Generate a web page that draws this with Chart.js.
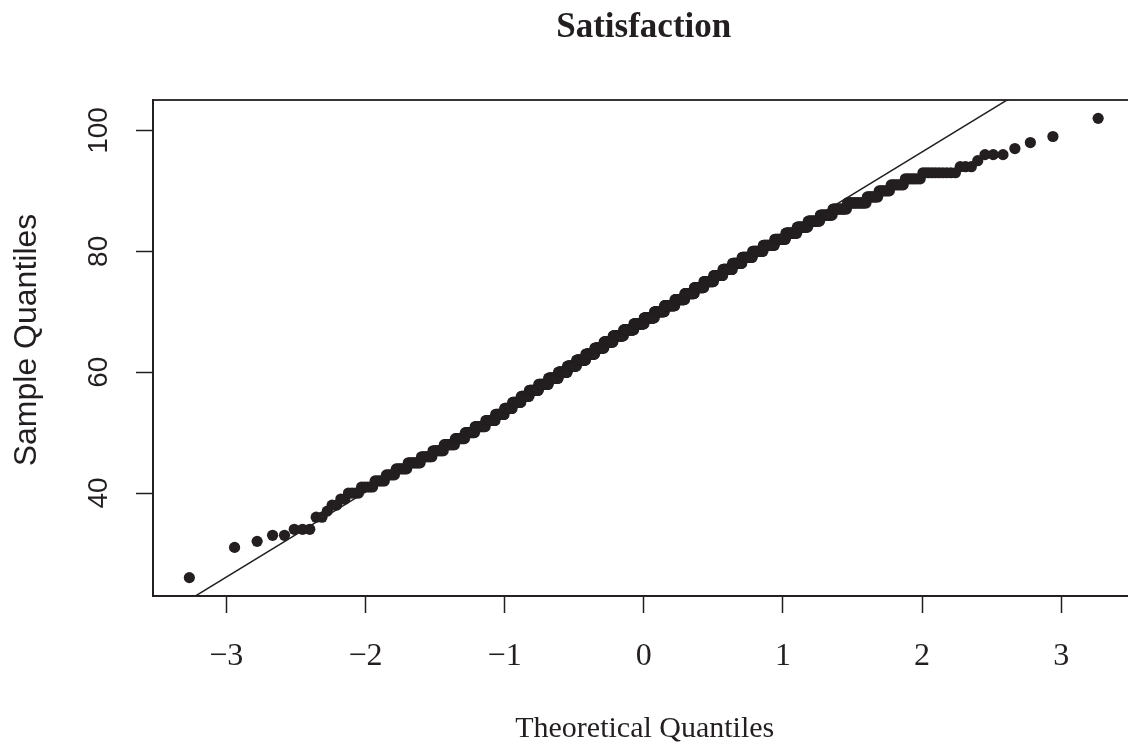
<!DOCTYPE html>
<html>
<head>
<meta charset="utf-8">
<title>Satisfaction</title>
<script src="https://cdn.jsdelivr.net/npm/chart.js@4.4.1/dist/chart.umd.min.js"></script>
<style>
    html, body { margin: 0; padding: 0; background: #ffffff; overflow: hidden; }
    canvas { display: block; }
</style>
</head>
<body>
<canvas id="qqChart" width="1150" height="746"></canvas>
<script>
// Satisfaction scores (distinct values) and how many respondents gave each one
const sampleValues = [26, 31, 32, 33, 34, 36, 37, 38, 39, 40, 41, 42, 43, 44, 45, 46, 47, 48, 49, 50,
    51, 52, 53, 54, 55, 56, 57, 58, 59, 60, 61, 62, 63, 64, 65, 66, 67, 68, 69, 70,
    71, 72, 73, 74, 75, 76, 77, 78, 79, 80, 81, 82, 83, 84, 85, 86, 87, 88, 89, 90,
    91, 92, 93, 94, 95, 96, 97, 98, 99, 102];
const sampleCounts = [1, 1, 1, 2, 3, 2, 1, 2, 2, 4, 5, 5, 5, 7, 9, 9, 10, 11, 11, 12,
    14, 14, 14, 13, 15, 15, 18, 20, 21, 20, 21, 22, 22, 23, 23, 27, 27, 27, 27, 26,
    27, 25, 24, 23, 23, 21, 21, 20, 21, 20, 20, 18, 17, 15, 15, 14, 14, 16, 8, 7,
    7, 7, 10, 3, 1, 3, 1, 1, 1, 1];

// Reference line (through the quartiles)
const lineIntercept = 68.3;
const lineSlope = 14.07;

// Axis ticks
const xTicks = [-3, -2, -1, 0, 1, 2, 3];
const yTicks = [40, 60, 80, 100];

const INK = '#231f20';

// Inverse normal CDF (Acklam's approximation)
function qnorm(p) {
    const a = [-3.969683028665376e+01, 2.209460984245205e+02, -2.759285104469687e+02,
        1.383577518672690e+02, -3.066479806614716e+01, 2.506628277459239e+00];
    const b = [-5.447609879822406e+01, 1.615858368580409e+02, -1.556989798598866e+02,
        6.680131188771972e+01, -1.328068155288572e+01];
    const c = [-7.784894002430293e-03, -3.223964580411365e-01, -2.400758277161838e+00,
        -2.549732539343734e+00, 4.374664141464968e+00, 2.938163982698783e+00];
    const d = [7.784695709041462e-03, 3.224671290700398e-01, 2.445134137142996e+00,
        3.754408661907416e+00];
    const pLow = 0.02425;
    let q, r;
    if (p < pLow) {
        q = Math.sqrt(-2 * Math.log(p));
        return (((((c[0] * q + c[1]) * q + c[2]) * q + c[3]) * q + c[4]) * q + c[5]) /
            ((((d[0] * q + d[1]) * q + d[2]) * q + d[3]) * q + 1);
    }
    if (p <= 1 - pLow) {
        q = p - 0.5;
        r = q * q;
        return (((((a[0] * r + a[1]) * r + a[2]) * r + a[3]) * r + a[4]) * r + a[5]) * q /
            (((((b[0] * r + b[1]) * r + b[2]) * r + b[3]) * r + b[4]) * r + 1);
    }
    q = Math.sqrt(-2 * Math.log(1 - p));
    return -(((((c[0] * q + c[1]) * q + c[2]) * q + c[3]) * q + c[4]) * q + c[5]) /
        ((((d[0] * q + d[1]) * q + d[2]) * q + d[3]) * q + 1);
}

// 1. SORTED SAMPLE + THEORETICAL QUANTILES (ppoints, a = 0.5)
const sorted = [];
sampleValues.forEach((v, k) => {
    for (let j = 0; j < sampleCounts[k]; j++) sorted.push(v);
});
const n = sorted.length;
const qqPoints = sorted.map((v, i) => ({ x: qnorm((i + 0.5) / n), y: v }));

// 2. AXIS LIMITS (data range + 4% each side)
function padRange(lo, hi) {
    const ext = (hi - lo) * 0.04;
    return [lo - ext, hi + ext];
}
const [xMin, xMax] = padRange(qqPoints[0].x, qqPoints[n - 1].x);
const [yMin, yMax] = padRange(sorted[0], sorted[n - 1]);

const linePoints = [xMin, xMax].map(x => ({ x: x, y: lineIntercept + lineSlope * x }));

// 3. TEXT + FRAME
const decorations = {
    id: 'decorations',
    afterDraw(chart) {
        const ctx = chart.ctx;
        const area = chart.chartArea;
        const yScale = chart.scales.y;
        const cx = (area.left + area.right) / 2;

        ctx.save();
        ctx.strokeStyle = INK;
        ctx.lineWidth = 1.8;
        ctx.strokeRect(area.left, area.top, area.right - area.left, area.bottom - area.top);

        ctx.fillStyle = INK;
        ctx.textAlign = 'center';
        ctx.textBaseline = 'alphabetic';
        ctx.font = 'bold 35px "Liberation Serif", "Times New Roman", serif';
        ctx.fillText('Satisfaction', cx, 37);

        ctx.font = '30px "Liberation Serif", "Times New Roman", serif';
        ctx.fillText('Theoretical Quantiles', cx + 1, 737);

        // y tick labels, parallel to the axis
        ctx.font = '28px "Liberation Sans", Arial, sans-serif';
        ctx.textBaseline = 'middle';
        yScale.ticks.forEach(t => {
            ctx.save();
            ctx.translate(99, yScale.getPixelForValue(t.value));
            ctx.rotate(-Math.PI / 2);
            ctx.fillText(String(t.value), 0, 0);
            ctx.restore();
        });

        ctx.font = '32px "Liberation Sans", Arial, sans-serif';
        ctx.textBaseline = 'alphabetic';
        ctx.translate(36, 340);
        ctx.rotate(-Math.PI / 2);
        ctx.fillText('Sample Quantiles', 0, 0);
        ctx.restore();
    }
};

// 4. CHART
const ctx = document.getElementById('qqChart').getContext('2d');
new Chart(ctx, {
    type: 'scatter',
    data: {
        datasets: [{
            type: 'line',
            data: linePoints,
            showLine: true,
            borderColor: INK,
            borderWidth: 1.5,
            pointRadius: 0,
            fill: false
        }, {
            data: qqPoints,
            backgroundColor: INK,
            borderWidth: 0,
            pointRadius: 5.6
        }]
    },
    options: {
        responsive: false,
        animation: false,
        devicePixelRatio: 1,
        events: [],
        layout: { padding: { left: 0, top: 100, right: 15.5, bottom: 0 } },
        plugins: {
            legend: { display: false },
            tooltip: { enabled: false },
            title: { display: false }
        },
        scales: {
            x: {
                type: 'linear',
                min: xMin,
                max: xMax,
                afterBuildTicks: s => { s.ticks = xTicks.map(v => ({ value: v })); },
                afterFit: s => { s.height = 150; },
                ticks: {
                    autoSkip: false,
                    maxRotation: 0,
                    padding: 24,
                    color: INK,
                    font: { family: '"Liberation Serif", "Times New Roman", serif', size: 32 },
                    callback: v => String(v).replace('-', '\u2212')
                },
                grid: {
                    drawOnChartArea: false,
                    drawTicks: true,
                    tickLength: 17,
                    tickWidth: 1.5,
                    tickColor: INK
                },
                border: { display: true, color: INK, width: 1.8 }
            },
            y: {
                type: 'linear',
                min: yMin,
                max: yMax,
                afterBuildTicks: s => { s.ticks = yTicks.map(v => ({ value: v })); },
                afterFit: s => { s.width = 153; },
                ticks: { display: false },
                grid: {
                    drawOnChartArea: false,
                    drawTicks: true,
                    tickLength: 17,
                    tickWidth: 1.5,
                    tickColor: INK
                },
                border: { display: true, color: INK, width: 1.8 }
            }
        }
    },
    plugins: [decorations]
});
</script>
</body>
</html>
